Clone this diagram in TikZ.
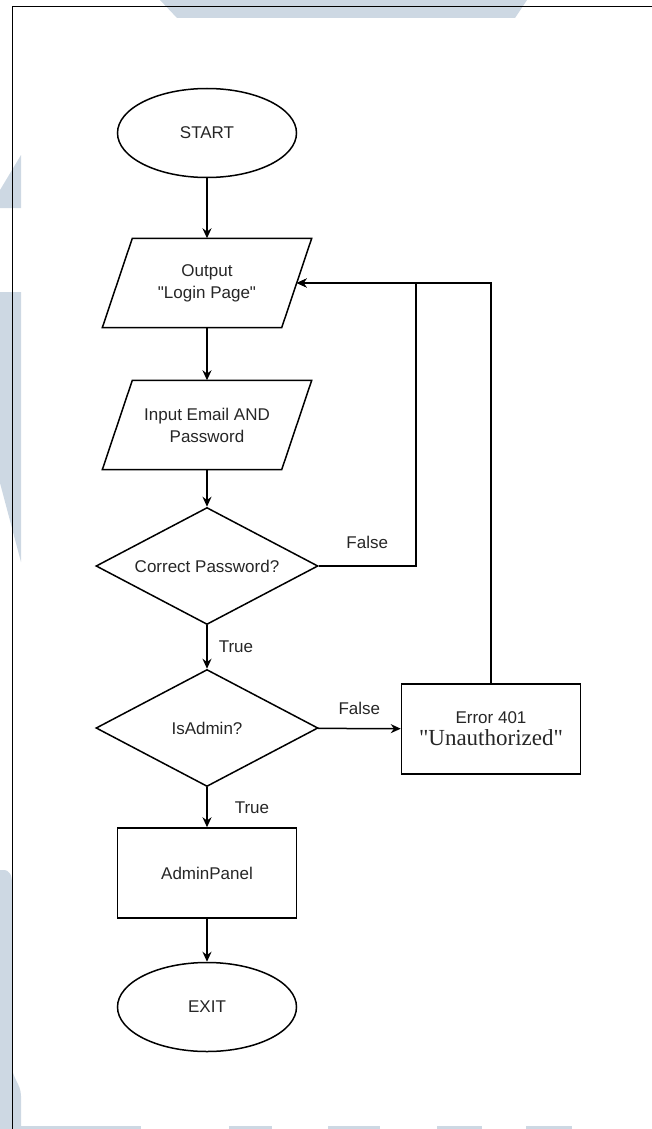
\documentclass[tikz,border=0pt]{standalone}
\usepackage{fontspec}
\newfontfamily\arialfont{Liberation Sans}
\newfontfamily\timesfont{Liberation Serif}
\usetikzlibrary{shapes.geometric,arrows.meta}
\definecolor{wmark}{RGB}{205,216,227}
\def\arr{\draw[flow]}
\def\wm{\fill[wmark]}
\def\para#1{\draw[line width=1.5pt] ([xshift=15pt]#1.north west) -- ([xshift=15pt]#1.north east)
    -- ([xshift=-15pt]#1.south east) -- ([xshift=-15pt]#1.south west) -- cycle;}

\begin{document}
\begin{tikzpicture}[x=1pt,y=-1pt,
    every node/.style={font=\arialfont\fontsize{17}{22}\selectfont,align=center,text=black!85},
    base/.style={draw,line width=1.5pt,inner sep=0pt},
    term/.style={base,ellipse,minimum width=179pt,minimum height=89pt},
    io/.style={inner sep=0pt,minimum width=179pt,minimum height=89pt},
    ask/.style={base,diamond,aspect=1.9,minimum width=222pt,minimum height=117pt},
    proc/.style={base,rectangle,minimum width=179pt,minimum height=90pt},
    lbl/.style={inner sep=0pt},
    flow/.style={line width=1.5pt,-{Stealth[length=10pt,width=9pt]}}]
    \useasboundingbox (0,0) rectangle (652,1129);
    % watermark behind the page
    \wm (160,0) -- (527,0) -- (515,18) -- (177,18) -- cycle;
    \wm (0,190) -- (21,155) -- (21,208) -- (0,208) -- cycle;
    \wm (0,292) -- (21,292) -- (21,562) -- (0,483) -- cycle;
    \wm (0,1129) -- (0,870) -- (3,870) .. controls (10,870) and (12,875) .. (12,884)
        -- (12,1066) .. controls (12,1078) and (21,1084) .. (21,1096) -- (21,1129) -- cycle;
    \foreach \a/\b in {21/141,229/272,328/380,437/482,526/572}
        \wm (\a,1126) rectangle (\b,1129);
    % page frame
    \draw[line width=1pt] (652,6.5) -| (12,1129);

    \node[term] (start) at (207,133) {START};
    \node[io]   (out)   at (207,283) {Output\\"Login Page"};
    \node[io]   (inp)   at (207,425) {Input Email AND\\Password};
    \para{out} \para{inp}
    \node[ask]  (pwd)   at (207,566) {Correct Password?};
    \node[ask]  (adm)   at (207,728) {IsAdmin?};
    \node[proc] (err)   at (491,729) {Error 401\\{\timesfont\fontsize{23}{25}\selectfont "Unauthorized"}};
    \node[proc] (panel) at (207,873) {AdminPanel};
    \node[term] (exit)  at (207,1007) {EXIT};

    \arr (start) -- (out);
    \arr (out) -- (inp);
    \arr (inp) -- (pwd);
    \arr (pwd) -- node[lbl,right=11pt] {True} (adm);
    \arr (pwd.east) -- node[lbl,above=17pt] {False} ++(97,0) |- (out.east);
    \arr (adm) -- node[lbl,above=13pt] {False} (err);
    \arr (err.north) |- (out.east);
    \arr (adm) -- node[lbl,right=27pt] {True} (panel);
    \arr (panel) -- (exit);
\end{tikzpicture}
\end{document}
